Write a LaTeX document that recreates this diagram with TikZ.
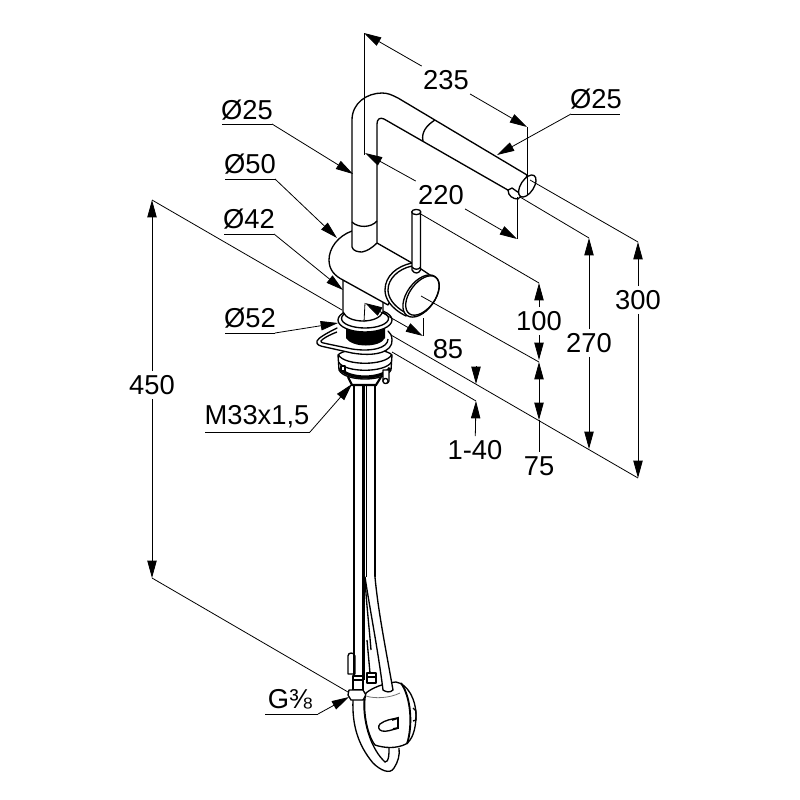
\documentclass[tikz,border=0pt]{standalone}
\usepackage{fontspec}
\setmainfont{Liberation Sans}
\usetikzlibrary{arrows.meta}
\tikzset{
    part/.style={draw=black,fill=white,line width=1pt,line join=round},
    edge/.style={draw=black,line width=1pt},
    thin gray/.style={draw=black!55,line width=.6pt},
    dim/.style={draw=black,line width=.6pt},
    tip/.style={dim,-{Triangle[length=13pt,width=7pt]}},
    label/.style={inner sep=3pt,font=\fontsize{20.5}{22}\selectfont}
}
\begin{document}
\begin{tikzpicture}[x=.75pt,y=-.75pt]
    \useasboundingbox (0,0) rectangle (800,800);
    % hoses and pipes
    \begin{scope}
	\draw[edge] (353,700) .. controls (352,725) and (358,745) .. (373,763) .. controls (380,770) and (390,775) .. (394,768) .. controls (398,762) and (400,755) .. (399,748);
	\draw[edge] (364,700) .. controls (363,725) and (372,750) .. (385,762) .. controls (389,762) and (389,755) .. (389,748);
	\draw[part] (348,656) .. controls (348,652) and (354,652) .. (355,656) -- (355,674) -- (348,674) -- cycle;
	\draw[edge,line width=1.4pt] (354,385) -- (354,680);
	\draw[edge,line width=2.4pt] (363.5,385) -- (363.5,680);
	\draw[edge,line width=.7pt] (366,385) -- (366,577);
	\draw[edge] (375,385) -- (375,577);
	\draw[thin gray] (365,577) .. controls (368,579) and (372,579) .. (375,577);
	\draw[edge] (365,577) .. controls (366,600) and (369,625) .. (371,650);
	\draw[edge] (367,640) -- (370,673);
    \end{scope}
    % box at the end of the hose
    \begin{scope}
	\draw[part] (353,676) rectangle (363,690);
	\draw[edge] (353,680) -- (363,680);
	\draw[part] (367,673) rectangle (376,683);
	\draw[edge] (367,677) -- (376,677);
	\draw[part] (349,690) -- (363,690) -- (366,695) -- (363,700) -- (351,700) -- (348,695) -- cycle;
	\draw[part] (366,693) .. controls (372,688) and (384,683) .. (396,682) .. controls (408,684) and (416,700) .. (416,715) .. controls (416,730) and (412,740) .. (406,744) .. controls (396,749) and (384,748) .. (375,745) .. controls (367,735) and (362,708) .. (366,693) -- cycle;
	\draw[part] (375,577) .. controls (378,610) and (385,645) .. (393,690) .. controls (390,693) and (386,692) .. (383,690) .. controls (378,650) and (370,610) .. (365,577);
	\draw[thin gray] (366,696) .. controls (375,699) and (390,698) .. (400,693);
	\draw[edge,line width=1.4pt] (401,683) .. controls (411,697) and (413,725) .. (407,744);
	\draw[part] (380,724) .. controls (385,720) and (392,719) .. (398,718) -- (398,728) .. controls (392,730) and (386,732) .. (382,731) .. controls (378,730) and (378,726) .. (380,724) -- cycle;
	\draw[edge,line width=1.4pt] (392,720) -- (398,718) -- (398,728) -- (393,729);
	\draw[edge] (413,708) -- (416,711) -- (416,720) -- (413,721);
    \end{scope}
    % deck mounting
    \begin{scope}
	\draw[part] (338,355) .. controls (345,347) and (385,347) .. (392,355) -- (391,370) .. controls (385,382) and (345,382) .. (339,370) -- cycle;
	\foreach \yy in {355,362}
	    \draw[edge] (338.5,\yy) .. controls (345,\yy+11) and (385,\yy+11) .. (391.5,\yy);
	\draw[edge,line width=2.4pt] (340,368) .. controls (347,380) and (383,380) .. (390,368);
	\draw[edge,line width=1.6pt] (348,377) -- (352,385) -- (376,385) -- (381,377);
	\draw[part] (383,370) -- (383,381) .. controls (385,384) and (388,384) .. (389,381) -- (389,370) -- cycle;
	\draw[part] (385.5,381) circle (2.6);
	\draw[part] (341,366) rectangle (345,371);
	\draw[part,line cap=round] (337,328) .. controls (327,333) and (318,338) .. (317,341) .. controls (316,345) and (320,346) .. (325,347) -- (352,353) .. controls (375,357) and (393,352) .. (392,340) .. controls (392,335) and (390,333) .. (388,331);
	\draw[edge] (337,332) .. controls (329,335) and (322,339) .. (321,341) .. controls (321,343) and (324,343) .. (328,344) -- (352,349) .. controls (372,352) and (388,348) .. (388,339);
	\fill[black] (346,326) -- (385,326) -- (385,338) .. controls (380,348) and (352,348) .. (346,338) -- cycle;
	\draw[part] (365,320) ellipse [x radius=27,y radius=12];
	\draw[edge] (365,318.5) ellipse [x radius=23.5,y radius=9.5];
    \end{scope}
    % body, knob, spout, lever
    \begin{scope}
	\draw[part] (343,280) -- (343,312) .. controls (348,324) and (378,324) .. (383,312) -- (383,300) -- cycle;
	\draw[part] (352,231) .. controls (338,236) and (329,248) .. (329,260) .. controls (329,270) and (335,276) .. (343,280) -- (388,305) -- (412,263) -- (377,243) -- cycle;
	\draw[part] (412,263) .. controls (397,266) and (385,276) .. (385,290) .. controls (385,298) and (390,308) .. (406,316) -- (421,296) -- (430,275) -- cycle;
	\draw[edge] (412,266) .. controls (398,269) and (388,279) .. (388,290) .. controls (388,297) and (393,306) .. (406,313);
	\draw[part] (421,296) ellipse [x radius=24,y radius=14,rotate=54];
	\draw[edge] (422.5,295.5) ellipse [x radius=22.5,y radius=12.8,rotate=54];
	\draw[part] (412,270) -- (412,213) -- (420.5,213) -- (420.5,270) .. controls (419,274) and (414,274) .. (412,270) -- cycle;
	\draw[part] (416.3,212) ellipse [x radius=4.6,y radius=2.6];
	\draw[edge] (412,267) .. controls (414,270) and (419,270) .. (420.5,267);
	\draw[part] (352,247) -- (352,120) .. controls (352,103) and (367,93) .. (382,93) .. controls (388,93) and (392,95) .. (398,98) -- (527,175) -- (520,197) -- (384,119) .. controls (380,117) and (377,119) .. (377,124) -- (377,243) .. controls (372,248) and (367,251) .. (362,252) .. controls (358,252) and (353,251) .. (352,247) -- cycle;
	\draw[edge] (352,222) .. controls (358,228) and (371,228) .. (377,221);
	\draw[edge] (435,120) .. controls (427,125) and (421,132) .. (423,141);
	\draw[part] (508,190) .. controls (508,196) and (513,199) .. (518,199) -- (522,195) -- (512,188) -- cycle;
	\draw[part] (527.3,186) ellipse [x radius=12.5,y radius=6.5,rotate=57];
    \end{scope}
    % labels
    \node[label] (t235) at (446,80) {235};
    \node[label] (t220) at (441,195) {220};
    \node[label] (dspoutr) at (596,99) {Ø25};
    \node[label] (dspoutl) at (247,110) {Ø25};
    \node[label] (dbody) at (250,164) {Ø50};
    \node[label] (dstem) at (249,219) {Ø42};
    \node[label] (dflange) at (250,318) {Ø52};
    \node[label] (t85) at (448,349) {85};
    \node[label] (t100) at (539,321) {100};
    \node[label] (t75) at (539,466) {75};
    \node[label] (t140) at (475,450) {1-40};
    \node[label] (t270) at (589,343) {270};
    \node[label] (t300) at (638,300) {300};
    \node[label] (t450) at (152,385) {450};
    \node[label] (tthread) at (257,417) {M33x1,5};
    \node[label] (tconn) at (290,699) {G⅜};
    % points the dimensions run to
    \coordinate (a235) at (364,33);
    \coordinate (b235) at (527,127);
    \coordinate (a220) at (365,153);
    \coordinate (b220) at (517,239);
    \coordinate (a85) at (365,303);
    \coordinate (b85) at (423,336);
    \coordinate (m85) at (394,319.5);
    \coordinate (a100) at (539,283);
    \coordinate (b100) at (539,360);
    \coordinate (a75) at (539,362);
    \coordinate (b75) at (539,420);
    \coordinate (m75) at (539,391);
    \coordinate (a140) at (476,384);
    \coordinate (b140) at (476,401);
    \coordinate (f140) at (476,366);
    \coordinate (a270) at (589,238);
    \coordinate (b270) at (589,449);
    \coordinate (a300) at (638,242);
    \coordinate (b300) at (638,478);
    \coordinate (a450) at (152,200);
    \coordinate (b450) at (152,578);
    % dimensions
    \draw[tip] (t235) -- (a235);
    \draw[tip] (t235) -- (b235);
    \draw[tip] (t220) -- (a220);
    \draw[tip] (t220) -- (b220);
    \draw[tip] (m85) -- (a85);
    \draw[tip] (m85) -- (b85);
    \draw[tip] (t100) -- (a100);
    \draw[tip] (t100) -- (b100);
    \draw[tip] (m75) -- (a75);
    \draw[tip] (m75) -- (b75);
    \draw[dim] (b75) -- (t75);
    \draw[tip] (t270) -- (a270);
    \draw[tip] (t270) -- (b270);
    \draw[tip] (t300) -- (a300);
    \draw[tip] (t300) -- (b300);
    \draw[tip] (t450) -- (a450);
    \draw[tip] (t450) -- (b450);
    \draw[tip] (f140) -- (a140);
    \draw[tip] (t140) -- (b140);
    % extension lines
    \draw[dim] (a235) -- (364,155);
    \draw[dim] (b235) -- (527,195);
    \draw[dim] (b220) -- (517,197);
    \draw[dim] (a85) -- (364,322);
    \draw[dim] (b85) -- (423,318);
    \draw[dim] (a100) -- (419,213);
    \draw[dim] (a75) -- (421,296);
    \draw[dim] (b140) -- (392,352);
    \draw[dim] (b300) -- (391,335);
    \draw[dim] (a300) -- (530,180);
    \draw[dim] (a270) -- (520,197);
    \draw[dim] (a450) -- (342,310);
    \draw[dim] (b450) -- (348,692);
    % leaders
    \coordinate (u1) at (571,114);
    \coordinate (u2) at (272,124);
    \coordinate (u3) at (275,179);
    \coordinate (u4) at (274,234);
    \coordinate (u5) at (275,333);
    \coordinate (u6) at (310,432);
    \coordinate (u7) at (318,714);
    \draw[dim] (u1) -- (620,114);
    \draw[tip] (u1) -- (497,155);
    \draw[dim] (u2) -- (222,124);
    \draw[tip] (u2) -- (353,174);
    \draw[dim] (u3) -- (225,179);
    \draw[tip] (u3) -- (337,238);
    \draw[dim] (u4) -- (224,234);
    \draw[tip] (u4) -- (343,290);
    \draw[dim] (u5) -- (225,333);
    \draw[tip] (u5) -- (338,323);
    \draw[dim] (u6) -- (205,432);
    \draw[tip] (u6) -- (352,384);
    \draw[dim] (u7) -- (265,714);
    \draw[tip] (u7) -- (349,697);
\end{tikzpicture}
\end{document}
